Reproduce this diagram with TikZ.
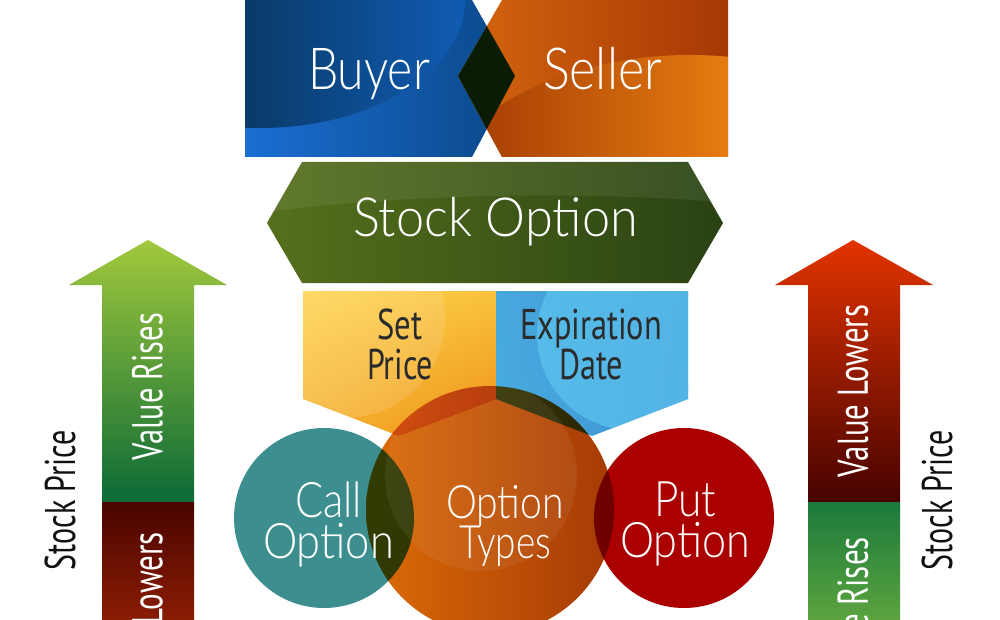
\documentclass[tikz,border=0pt]{standalone}
\usepackage{fontspec}
\usetikzlibrary{shadings}
\IfFontExistsTF{Lato Light}{\newfontfamily\thinfont{Lato Light}}{%
  \IfFontExistsTF{Fira Sans Light}{\newfontfamily\thinfont{Fira Sans Light}}{%
    \newfontfamily\thinfont{Fira Sans}}}
\newfontfamily\condfont{PT Sans}
\newcommand{\fw}[2]{\resizebox{#1pt}{\height}{#2}}
\newcommand{\cnd}[1]{\scalebox{0.72}[1]{#1}}
\newcommand{\twol}[3]{\vbox{\baselineskip=#1pt\lineskiplimit=-100pt\lineskip=0pt\halign{\hfil##\hfil\cr#2\cr#3\cr}}}
\definecolor{bA}{HTML}{1A6ED2}\definecolor{bB}{HTML}{0A4888}
\definecolor{bC}{HTML}{093A68}\definecolor{bD}{HTML}{1263C4}
\definecolor{sA}{HTML}{D4660E}\definecolor{sB}{HTML}{A63805}
\definecolor{sC}{HTML}{A33A04}\definecolor{sD}{HTML}{E47C10}
\definecolor{dia}{HTML}{0B1C06}
\definecolor{gA}{HTML}{55701C}\definecolor{gB}{HTML}{2A4213}
\definecolor{yUL}{HTML}{FED453}\definecolor{yUR}{HTML}{F9C23C}
\definecolor{yLL}{HTML}{F6B230}\definecolor{yLR}{HTML}{EE9015}
\definecolor{cUL}{HTML}{47A8DE}\definecolor{cUR}{HTML}{3C92D3}
\definecolor{cLL}{HTML}{4AACDF}\definecolor{cLR}{HTML}{3A8ED0}
\definecolor{cHi}{HTML}{62CBF2}
\definecolor{teal}{HTML}{3C8E8F}\definecolor{putred}{HTML}{AA0000}
\definecolor{oL}{HTML}{DC6C08}\definecolor{oR}{HTML}{A53A05}
\definecolor{agT}{HTML}{A2C93C}\definecolor{agB}{HTML}{0B6A36}
\definecolor{arT}{HTML}{4A0500}\definecolor{arB}{HTML}{8D1D03}
\definecolor{rrT}{HTML}{E33400}\definecolor{rrB}{HTML}{460200}
\definecolor{rgT}{HTML}{1B7A3B}\definecolor{rgB}{HTML}{5EA53F}
\definecolor{darktext}{HTML}{2B2B2B}\definecolor{blacktext}{HTML}{111111}
\begin{document}
\begin{tikzpicture}[x=1pt,y=-1pt,
  wbig/.style={inner sep=0pt, text=white, font=\thinfont\fontsize{58}{60}\selectfont},
  wcirc/.style={inner sep=0pt, text=white, font=\thinfont\fontsize{49}{41}\selectfont},
  dlbl/.style={inner sep=0pt, text=darktext, font=\condfont\fontsize{43}{40}\selectfont},
  vlbl/.style={inner sep=0pt, rotate=90, font=\condfont\fontsize{43}{45}\selectfont}
]
\useasboundingbox (0,0) rectangle (1000,620);
\fill[white] (0,0) rectangle (1000,620);
\clip (0,0) rectangle (1000,620);

% ---------- Buyer ----------
\shade[left color=bA, right color=bB] (245,0) -- (472,0) -- (515,76) -- (472,157) -- (245,157) -- cycle;
\begin{scope}
  \clip (245,0) -- (472,0) -- (515,76) -- (472,157) -- (245,157) -- cycle;
  \clip (260,0) ellipse [x radius=205, y radius=128];
  \shade[left color=bC, right color=bD] (245,0) rectangle (515,157);
\end{scope}
% ---------- Seller ----------
\shade[left color=sA, right color=sB] (502,0) -- (728,0) -- (728,157) -- (502,157) -- (458,76) -- cycle;
\begin{scope}
  \clip (502,0) -- (728,0) -- (728,157) -- (502,157) -- (458,76) -- cycle;
  \clip (690,250) ellipse [x radius=283, y radius=195];
  \shade[left color=sC, right color=sD] (458,0) rectangle (728,157);
\end{scope}
\begin{scope}
  \clip (245,0) -- (472,0) -- (515,76) -- (472,157) -- (245,157) -- cycle;
  \fill[dia] (502,0) -- (728,0) -- (728,157) -- (502,157) -- (458,76) -- cycle;
\end{scope}

% ---------- Stock Option ----------
\shade[left color=gA, right color=gB] (267,223) -- (302,162) -- (688,162) -- (723,223) -- (688,283) -- (302,283) -- cycle;
\begin{scope}
  \clip (267,223) -- (302,162) -- (688,162) -- (723,223) -- (688,283) -- (302,283) -- cycle;
  \fill[white, opacity=0.07] (250,150) -- (250,214) .. controls (400,193) and (600,190) .. (740,204) -- (740,150) -- cycle;
\end{scope}

% ---------- Set Price / Expiration Date ----------
\shade[upper left=yUL, upper right=yUR, lower left=yLL, lower right=yLR]
  (303,291) -- (496,291) -- (496,399) -- (399,436) -- (303,399) -- cycle;
\begin{scope}
  \clip (303,291) -- (496,291) -- (496,399) -- (399,436) -- (303,399) -- cycle;
  \fill[white, opacity=0.12] (345,318) circle [radius=100];
\end{scope}
\shade[upper left=cUL, upper right=cUR, lower left=cLL, lower right=cLR]
  (496,291) -- (688,291) -- (688,399) -- (592,436) -- (496,399) -- cycle;
\begin{scope}
  \clip (496,291) -- (688,291) -- (688,399) -- (592,436) -- (496,399) -- cycle;
  \fill[cHi, opacity=0.6] (632,335) circle [radius=95];
\end{scope}

% ---------- circles ----------
\fill[teal] (324,518) circle [radius=90];
\fill[putred] (684,518) circle [radius=90];
\shade[left color=oL, right color=oR, blend mode=multiply] (490,510) circle [radius=124];
\begin{scope}
  \clip (490,510) circle [radius=124];
  \fill[white, opacity=0.06] (481,475) circle [radius=96];
\end{scope}

% ---------- arrows ----------
\shade[top color=agT, bottom color=agB] (148,240) -- (227,285) -- (194,285) -- (194,502) -- (102,502) -- (102,285) -- (69,285) -- cycle;
\shade[top color=arT, bottom color=arB] (102,502) rectangle (194,625);
\shade[top color=rrT, bottom color=rrB] (853,240) -- (933,285) -- (900,285) -- (900,502) -- (808,502) -- (808,285) -- (775,285) -- cycle;
\shade[top color=rgT, bottom color=rgB] (808,502) rectangle (900,625);

% ---------- texts ----------
\node[wbig, anchor=base] (buyer) at (369,90) {\fw{122}{Buyer}};
\node[wbig, anchor=base] (seller) at (602.5,90) {\fw{119}{Seller}};
\node[wbig, anchor=base, font=\thinfont\fontsize{54}{60}\selectfont] (stock) at (495.5,237) {\fw{285}{Stock Option}};

\node[dlbl] (setprice) at (400,344.5) {\twol{40}{\fw{45}{Set}}{\fw{66}{Price}}};
\node[dlbl] (expdate) at (591,344.5) {\twol{40}{\fw{142}{Expiration}}{\fw{64}{Date}}};

\node[wcirc] (call) at (328.5,524) {\twol{41}{\fw{67}{Call}}{\fw{131}{Option}}};
\node[wcirc, font=\thinfont\fontsize{46}{40}\selectfont] (types) at (505,526) {\twol{40}{\fw{118}{Option}}{\fw{92}{Types}}};
\node[wcirc] (put) at (685,524) {\twol{41}{\fw{62}{Put}}{\fw{130}{Option}}};

\node[vlbl, text=white] (rises) at (147.5,386.5) {\fw{147}{Value Rises}};
\node[vlbl, text=white, anchor=east] (lowersL) at (147.5,532) {\cnd{Lowers}};
\node[vlbl, text=blacktext] (spL) at (60,500) {\fw{140}{Stock Price}};
\node[vlbl, text=white] (lowers) at (853,391) {\fw{172}{Value Lowers}};
\node[vlbl, text=white, anchor=east] (risesR) at (853,537) {\cnd{e Rises}};
\node[vlbl, text=blacktext] (spR) at (937,500) {\fw{140}{Stock Price}};
\end{tikzpicture}
\end{document}
